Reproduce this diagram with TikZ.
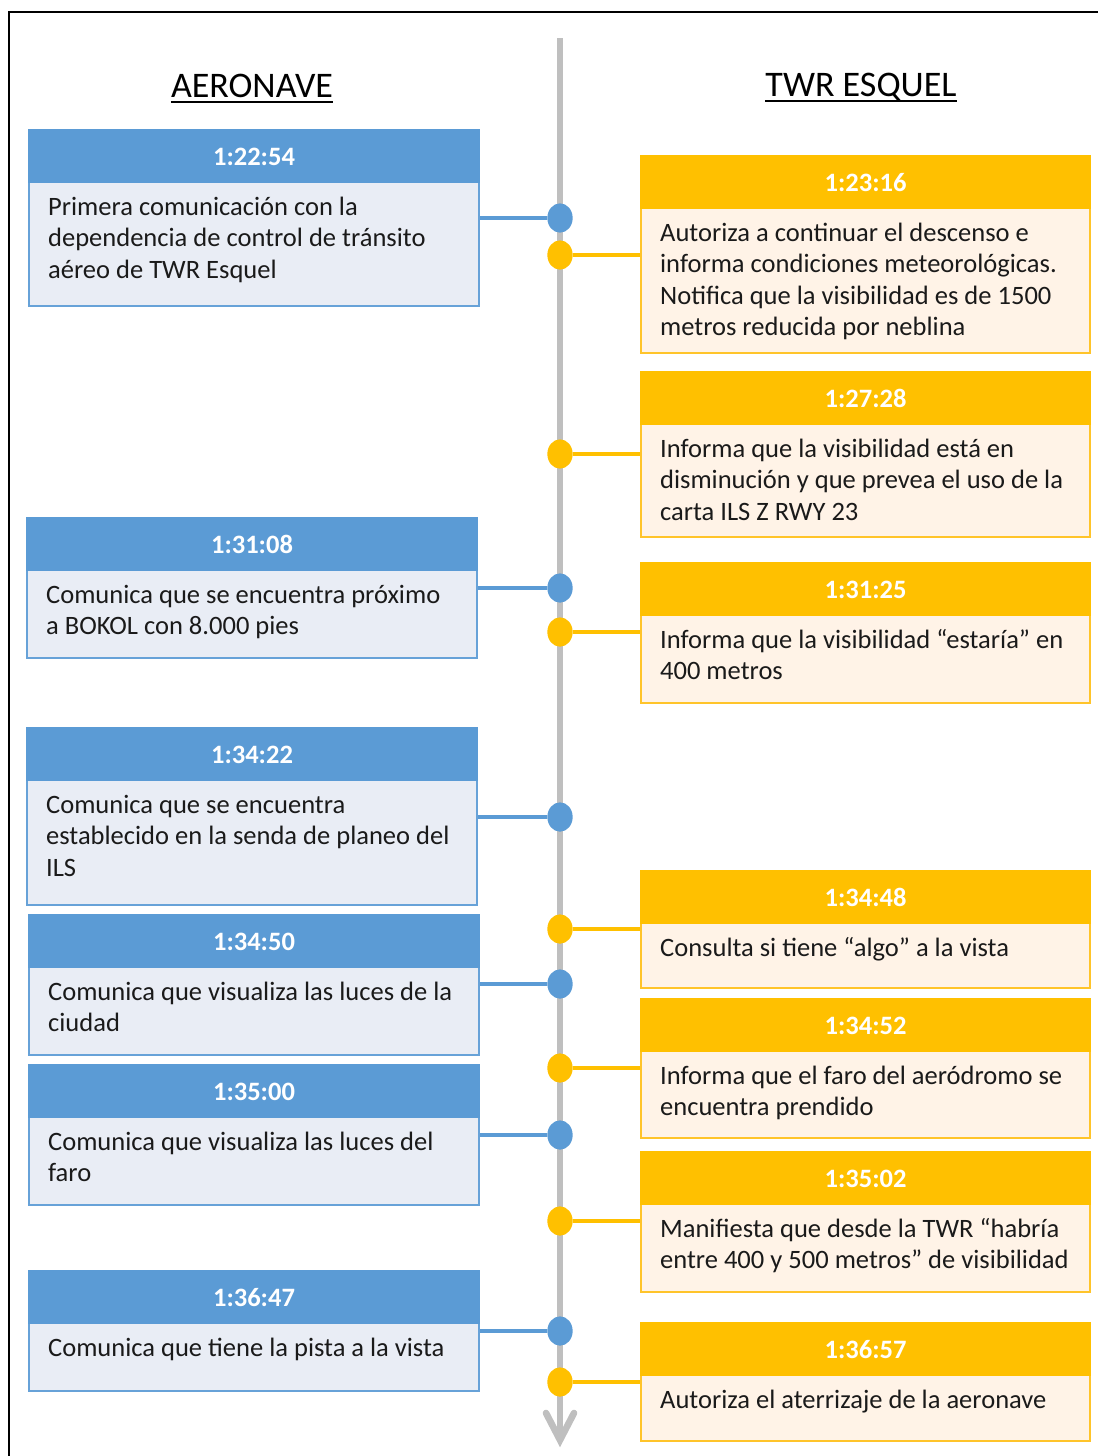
\documentclass[tikz,border=0pt]{standalone}
\usepackage{fontspec}
\setmainfont{Carlito}
\usetikzlibrary{calc,fit,shapes.geometric}
\definecolor{bluehead}{HTML}{5B9BD5}
\definecolor{bluebody}{HTML}{E9EDF5}
\definecolor{bluebord}{HTML}{67A2D8}
\definecolor{yelhead}{HTML}{FFC000}
\definecolor{yelbody}{HTML}{FFF3E7}
\definecolor{yelbord}{HTML}{FFC42A}
\definecolor{tlgray}{HTML}{BFBFBF}
\definecolor{txt}{HTML}{1A1A1A}
\newcommand\tlevent[8]{%
  \node[#2body, fit={(#3,#5+52) (#4,#6)}] (#1b) {};
  \node[#2head, fit={(#3,#5) (#4,#5+52)}] (#1h) {};
  \node[timetext] (#1t) at ($(#1h.north)+(0,37)$) {#7};
  \node[bodytext] (#1x) at ($(#1b.north west)+(20,12)$) {\strut#8};
}
\begin{document}
\begin{tikzpicture}[x=0.75pt,y=-0.75pt,
  bbody/.style={draw=bluebord, fill=bluebody, line width=1.7pt, inner sep=0pt, rectangle},
  bhead/.style={draw=bluehead, fill=bluehead, line width=1.7pt, inner sep=0pt, rectangle},
  ybody/.style={draw=yelbord, fill=yelbody, line width=1.7pt, inner sep=0pt, rectangle},
  yhead/.style={draw=yelhead, fill=yelhead, line width=1.7pt, inner sep=0pt, rectangle},
  timetext/.style={anchor=base, inner sep=0pt, text=white, font=\bfseries\fontsize{19.9pt}{23.6pt}\selectfont},
  bodytext/.style={anchor=north west, inner sep=0pt, align=left, text=txt, font=\fontsize{19.9pt}{23.6pt}\selectfont},
  coltitle/.style={anchor=base, inner sep=0pt, text=black, font=\fontsize{27pt}{32pt}\selectfont},
  bdot/.style={ellipse, fill=bluehead, minimum width=19pt, minimum height=22pt, inner sep=0pt},
  ydot/.style={ellipse, fill=yelhead, minimum width=19pt, minimum height=22pt, inner sep=0pt},
  bconn/.style={draw=bluehead, line width=2.8pt},
  yconn/.style={draw=yelhead, line width=2.8pt},
  tl/.style={draw=tlgray, line width=5pt},
]
\useasboundingbox (0,0) rectangle (1098,1456);
% frame
\coordinate (fbl) at (9,1456);
\coordinate (ftl) at (9,12);
\coordinate (ftr) at (1098,12);
\draw[line width=1.5pt] (fbl) -- (ftl) -- (ftr);

% column titles
\node[coltitle] (hA) at (252,97) {AERONAVE};
\node[coltitle] (hT) at (861,96) {TWR ESQUEL};
\draw[line width=1.5pt] ([yshift=-3.5pt]hA.base west) -- ([yshift=-3.5pt]hA.base east);
\draw[line width=1.5pt] ([yshift=-3.5pt]hT.base west) -- ([yshift=-3.5pt]hT.base east);

% timeline
\coordinate (ttop) at (560,38);
\coordinate (tbot) at (560,1440);
\coordinate (tcl) at (546,1413);
\coordinate (tcr) at (574,1413);
\draw[tl] (ttop) -- (tbot);
\draw[tl, line cap=round, line join=miter] (tcl) -- (tbot) -- (tcr);

% left boxes
\tlevent{L1}{b}{29}{479}{130}{306}{1:22:54}{Primera comunicación con la\\dependencia de control de tránsito\\aéreo de TWR Esquel}
\tlevent{L2}{b}{27}{477}{518}{658}{1:31:08}{Comunica que se encuentra próximo\\a BOKOL con 8.000 pies}
\tlevent{L3}{b}{27}{477}{728}{905}{1:34:22}{Comunica que se encuentra\\establecido en la senda de planeo del\\ILS}
\tlevent{L4}{b}{29}{479}{915}{1055}{1:34:50}{Comunica que visualiza las luces de la\\ciudad}
\tlevent{L5}{b}{29}{479}{1065}{1205}{1:35:00}{Comunica que visualiza las luces del\\faro}
\tlevent{L6}{b}{29}{479}{1271}{1391}{1:36:47}{Comunica que tiene la pista a la vista}

% right boxes
\tlevent{R1}{y}{641}{1090}{156}{353}{1:23:16}{Autoriza a continuar el descenso e\\informa condiciones meteorológicas.\\Notifica que la visibilidad es de 1500\\metros reducida por neblina}
\tlevent{R2}{y}{641}{1090}{372}{537}{1:27:28}{Informa que la visibilidad está en\\disminución y que prevea el uso de la\\carta ILS Z RWY 23}
\tlevent{R3}{y}{641}{1090}{563}{703}{1:31:25}{Informa que la visibilidad “estaría” en\\400 metros}
\tlevent{R4}{y}{641}{1090}{871}{988}{1:34:48}{Consulta si tiene “algo” a la vista}
\tlevent{R5}{y}{641}{1090}{999}{1138}{1:34:52}{Informa que el faro del aeródromo se\\encuentra prendido}
\tlevent{R6}{y}{641}{1090}{1152}{1292}{1:35:02}{Manifiesta que desde la TWR “habría\\entre 400 y 500 metros” de visibilidad}
\tlevent{R7}{y}{641}{1090}{1323}{1441}{1:36:57}{Autoriza el aterrizaje de la aeronave}

% dots
\node[bdot] (dL1) at (560,218) {};
\node[bdot] (dL2) at (560,588) {};
\node[bdot] (dL3) at (560,817) {};
\node[bdot] (dL4) at (560,984) {};
\node[bdot] (dL5) at (560,1135) {};
\node[bdot] (dL6) at (560,1331) {};
\node[ydot] (dR1) at (560,255) {};
\node[ydot] (dR2) at (560,454) {};
\node[ydot] (dR3) at (560,632) {};
\node[ydot] (dR4) at (560,929) {};
\node[ydot] (dR5) at (560,1068) {};
\node[ydot] (dR6) at (560,1221) {};
\node[ydot] (dR7) at (560,1382) {};

% connectors
\draw[bconn] (dL1) -- (dL1 -| L1b.east);
\draw[bconn] (dL2) -- (dL2 -| L2b.east);
\draw[bconn] (dL3) -- (dL3 -| L3b.east);
\draw[bconn] (dL4) -- (dL4 -| L4b.east);
\draw[bconn] (dL5) -- (dL5 -| L5b.east);
\draw[bconn] (dL6) -- (dL6 -| L6b.east);
\draw[yconn] (dR1) -- (dR1 -| R1b.west);
\draw[yconn] (dR2) -- (dR2 -| R2b.west);
\draw[yconn] (dR3) -- (dR3 -| R3b.west);
\draw[yconn] (dR4) -- (dR4 -| R4b.west);
\draw[yconn] (dR5) -- (dR5 -| R5b.west);
\draw[yconn] (dR6) -- (dR6 -| R6b.west);
\draw[yconn] (dR7) -- (dR7 -| R7b.west);
\end{tikzpicture}
\end{document}
